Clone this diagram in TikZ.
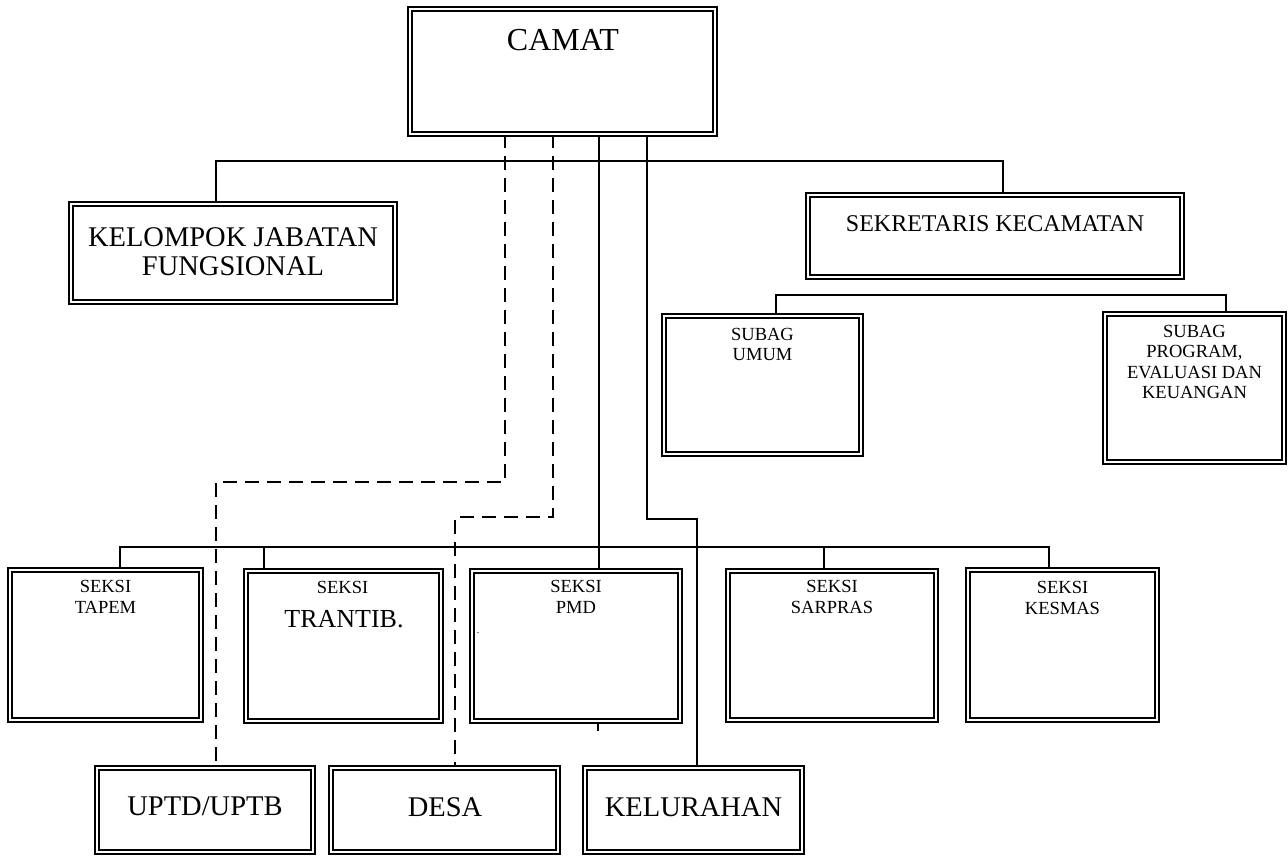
\documentclass[tikz,border=0pt]{standalone}
\usepackage{fontspec}
\setmainfont{Liberation Serif}
\begin{document}
\begin{tikzpicture}[x=1pt,y=-1pt,
  box/.style={draw, fill=white, line width=1.8pt, double, double distance=2.2pt, inner sep=0pt, rectangle},
  lbl/.style={inner sep=0pt, anchor=north, align=center},
  conn/.style={draw, line width=1.3pt},
  dashline/.style={draw, line width=1.4pt, dash pattern=on 14pt off 8pt}]
\useasboundingbox (0,0) rectangle (1288,856);
% coordinates for connectors
\coordinate (topL) at (216,161);
\coordinate (topR) at (1003,161);
\coordinate (d1) at (505,482);
\coordinate (d1b) at (216,482);
\coordinate (d2) at (553,517);
\coordinate (d2b) at (455,517);
\coordinate (s3) at (599,300);
\coordinate (s4) at (647,519);
\coordinate (s4b) at (697,519);
\coordinate (sL) at (120,547);
\coordinate (sR) at (1049,547);
\coordinate (sT) at (264,547);
\coordinate (sS) at (824,547);
\coordinate (bL) at (776,295);
\coordinate (bR) at (1226,295);
\coordinate (stub) at (598,731);
% boxes (named, positioned; drawn after connectors via layering order below)
\path
  (562.5,71.5) node[minimum width=305pt, minimum height=125pt, inner sep=0pt] (camat) {}
  (233,253) node[minimum width=324pt, minimum height=98pt, inner sep=0pt] (kel) {}
  (995,236) node[minimum width=374pt, minimum height=82pt, inner sep=0pt] (sek) {}
  (762.5,385) node[minimum width=197pt, minimum height=138pt, inner sep=0pt] (umum) {}
  (1194.5,388) node[minimum width=179pt, minimum height=148pt, inner sep=0pt] (prog) {}
  (105.5,645) node[minimum width=191pt, minimum height=150pt, inner sep=0pt] (tapem) {}
  (343.5,646) node[minimum width=195pt, minimum height=150pt, inner sep=0pt] (trantib) {}
  (576,646) node[minimum width=208pt, minimum height=150pt, inner sep=0pt] (pmd) {}
  (832,645.5) node[minimum width=208pt, minimum height=149pt, inner sep=0pt] (sarpras) {}
  (1062.5,645) node[minimum width=189pt, minimum height=150pt, inner sep=0pt] (kesmas) {}
  (205,810) node[minimum width=216pt, minimum height=84pt, inner sep=0pt] (uptd) {}
  (444.5,810) node[minimum width=227pt, minimum height=84pt, inner sep=0pt] (desa) {}
  (693.5,810) node[minimum width=217pt, minimum height=84pt, inner sep=0pt] (kelur) {};
% connectors
\draw[conn] (kel.north -| topL) -- (topL) -- (topR) -- (sek.north -| topR);
\draw[dashline] (camat.south -| d1) -- (d1) -- (d1b) -- (uptd.north -| d1b);
\draw[dashline] (camat.south -| d2) -- (d2) -- (d2b) -- (desa.north -| d2b);
\draw[conn] (camat.south -| s3) -- (pmd.north -| s3);
\draw[conn] (camat.south -| s4) -- (s4) -- (s4b) -- (kelur.north -| s4b);
\draw[conn] (tapem.north -| sL) -- (sL) -- (sR) -- (kesmas.north -| sR);
\draw[conn] (sT) -- (trantib.north -| sT);
\draw[conn] (sS) -- (sarpras.north -| sS);
\draw[conn] (umum.north -| bL) -- (bL) -- (bR) -- (prog.north -| bR);
\draw[conn] (pmd.south -| stub) -- (stub);
% box outlines
\foreach \b in {camat,kel,sek,umum,prog,tapem,trantib,pmd,sarpras,kesmas,uptd,desa,kelur}
  \draw[box] (\b.north west) rectangle (\b.south east);
% texts
\node[lbl, font=\fontsize{32}{34}\selectfont] (camatT) at (563,29) {CAMAT};
\node[lbl, font=\fontsize{28.5}{29}\selectfont] (kelT) at (233,227) {KELOMPOK JABATAN\\FUNGSIONAL};
\node[lbl, font=\fontsize{24}{26}\selectfont] (sekT) at (995,215) {SEKRETARIS KECAMATAN};
\node[lbl, font=\fontsize{18.5}{20.5}\selectfont] (umumT) at (762.5,328) {SUBAG\\UMUM};
\node[lbl, font=\fontsize{18.5}{20.5}\selectfont] (progT) at (1194.5,325) {SUBAG\\PROGRAM,\\EVALUASI DAN\\KEUANGAN};
\node[lbl, font=\fontsize{18.5}{21}\selectfont] (tapemT) at (105.5,580) {SEKSI\\TAPEM};
\node[lbl, font=\fontsize{18.5}{21}\selectfont] (trantibA) at (342.5,581) {SEKSI};
\node[lbl, font=\fontsize{26}{28}\selectfont] (trantibB) at (344,610) {TRANTIB.};
\node[lbl, font=\fontsize{18.5}{21}\selectfont] (pmdT) at (576,580) {SEKSI\\PMD};
\node[inner sep=0pt, font=\fontsize{10}{12}\selectfont] (pmdDot) at (478,633) {.};
\node[lbl, font=\fontsize{18.5}{21}\selectfont] (sarprasT) at (832,580) {SEKSI\\SARPRAS};
\node[lbl, font=\fontsize{18.5}{21}\selectfont] (kesmasT) at (1062.5,581) {SEKSI\\KESMAS};
\node[lbl, font=\fontsize{28.5}{30}\selectfont] (uptdT) at (205,797) {UPTD/UPTB};
\node[lbl, font=\fontsize{28.5}{30}\selectfont] (desaT) at (445,797) {DESA};
\node[lbl, font=\fontsize{28.5}{30}\selectfont] (kelurT) at (693.5,797) {KELURAHAN};
\end{tikzpicture}
\end{document}
